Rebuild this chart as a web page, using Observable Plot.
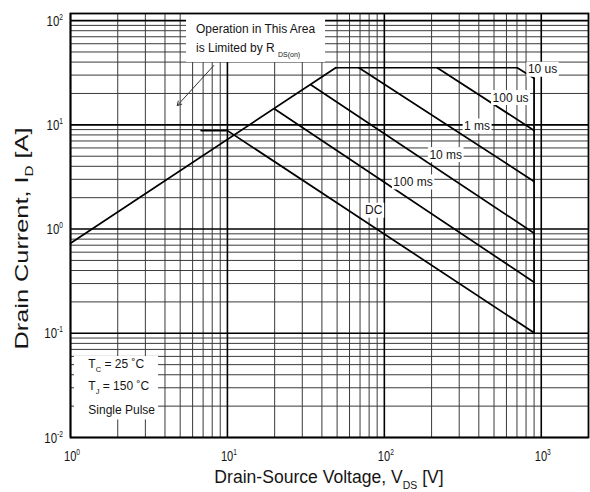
<!DOCTYPE html>
<html><head><meta charset="utf-8">
<script src="https://cdn.jsdelivr.net/npm/d3@7"></script>
<script src="https://cdn.jsdelivr.net/npm/@observablehq/plot@0.6"></script>
<style>
html,body{margin:0;padding:0;background:#fff;}
svg{display:block;}
</style>
</head><body><div id="chart"></div>
<script>
// ---- data (V in volts, I in amperes) ----
const rdsV = [1, 49],        rdsI = [0.73, 35.3];
const us10V = [49, 703, 900], us10I = [35.3, 35.3, 28];
const us100V = [217, 900],   us100I = [35.3, 8.83];
const ms1V = [68.8, 900],    ms1I = [35.3, 2.86];
const ms10V = [34, 900],     ms10I = [24.2, 0.913];
const ms100V = [20, 900],    ms100I = [14.2, 0.309];
const dcV = [6.8, 10, 900],  dcI = [8.8, 8.8, 0.101];
const edgeV = [900, 900],    edgeI = [28, 0.101];

const labelNames = ["10 us", "100 us", "1 ms", "10 ms", "100 ms", "DC"];
const labelV = [1027, 642, 393, 248, 153.5, 86.2];
const labelI = [34.0, 18.2, 9.7, 5.16, 2.82, 1.51];

const xMajor = [1, 10, 100, 1000];
const xMinor = [2,3,4,5,6,7,8,9,20,30,40,50,60,70,80,90,200,300,400,500,600,700,800,2000];
const yMajor = [0.01, 0.1, 1, 10, 100];
const yMinor = [0.02,0.03,0.04,0.05,0.06,0.07,0.08,0.09,0.2,0.3,0.4,0.5,0.6,0.7,0.8,0.9,2,3,4,5,6,7,8,9,20,30,40,50,60,70,80,90];
const xTickValues = [1, 10, 100, 1000], xTickExp = ["0", "1", "2", "3"];
const yTickValues = [0.01, 0.1, 1, 10, 100], yTickExp = ["-2", "-1", "0", "1", "2"];

const pts = (V, I) => V.map((v, k) => ({v, i: I[k]}));
const curveStyle = {x: "v", y: "i", stroke: "#000", strokeWidth: 1.7};
const FONT = "'Liberation Sans', Arial, sans-serif";

const plot = Plot.plot({
  width: 590, height: 492,
  marginLeft: 70, marginRight: 2, marginTop: 13, marginBottom: 55,
  x: {type: "log", domain: [1, 2000], axis: null},
  y: {type: "log", domain: [0.01, 117], axis: null},
  style: {fontFamily: FONT, background: "#fff"},
  marks: [
    Plot.ruleX(xMinor, {stroke: "#3a3a3a", strokeWidth: 1}),
    Plot.ruleX([900], {y1: 0.01, y2: 28, stroke: "#3a3a3a", strokeWidth: 1}),
    Plot.ruleY(yMinor, {stroke: "#3a3a3a", strokeWidth: 1}),
    Plot.ruleX(xMajor, {stroke: "#000", strokeWidth: 1.6}),
    Plot.ruleY(yMajor, {stroke: "#000", strokeWidth: 1.6}),
    Plot.rect([0], {x1: 5.49, x2: 42.2, y1: 39.6, y2: 117, fill: "#fff"}),
    Plot.rect([0], {x1: 1.06, x2: 3.64, y1: 0.01473, y2: 0.0599, fill: "#fff"}),
    Plot.arrow([0], {x1: 8.19, y1: 37.1, x2: 4.79, y2: 15.3, stroke: "#333", strokeWidth: 1, headLength: 7}),
    Plot.line(pts(rdsV, rdsI), curveStyle),
    Plot.line(pts(us10V, us10I), curveStyle),
    Plot.line(pts(us100V, us100I), curveStyle),
    Plot.line(pts(ms1V, ms1I), curveStyle),
    Plot.line(pts(ms10V, ms10I), curveStyle),
    Plot.line(pts(ms100V, ms100I), curveStyle),
    Plot.line(pts(dcV, dcI), curveStyle),
    Plot.line(pts(edgeV, edgeI), curveStyle),
    Plot.frame({stroke: "#000", strokeWidth: 1.8})
  ]
});
document.getElementById("chart").append(plot);

const sx = plot.scale("x"), sy = plot.scale("y");
const svg = d3.select(plot);
const g = svg.append("g").attr("font-family", FONT).attr("fill", "#151515").attr("text-anchor", "start");

// tick labels
xTickValues.forEach((v, k) => {
  const t = g.append("text")
    .attr("transform", `translate(${sx.apply(v) + 2},460.5) scale(0.74,1)`)
    .attr("text-anchor", "middle").attr("font-size", 15);
  t.append("tspan").text("10");
  t.append("tspan").attr("dy", -6).attr("font-size", 9).text(xTickExp[k]);
});
yTickValues.forEach((v, k) => {
  const t = g.append("text")
    .attr("transform", `translate(63,${sy.apply(v) + 5.5}) scale(0.74,1)`)
    .attr("text-anchor", "end").attr("font-size", 15.5);
  t.append("tspan").text("10");
  t.append("tspan").attr("dy", -6).attr("font-size", 9).text(yTickExp[k]);
});

// axis titles
const xt = g.append("text")
  .attr("transform", `translate(${(sx.range[0] + sx.range[1]) / 2},483) scale(0.95,1)`)
  .attr("text-anchor", "middle").attr("font-size", 18.5);
xt.append("tspan").text("Drain-Source Voltage, V");
xt.append("tspan").attr("font-size", 11).attr("dy", 6).text("DS");
xt.append("tspan").attr("dy", -6).text(" [V]");

const yt = g.append("text")
  .attr("transform", `translate(28.3,238.5) rotate(-90) scale(1.37,1)`)
  .attr("text-anchor", "middle").attr("font-size", 18.5);
yt.append("tspan").text("Drain Current, I");
yt.append("tspan").attr("font-size", 11).attr("dy", 5).text("D");
yt.append("tspan").attr("dy", -5).text(" [A]");

// curve labels with white backgrounds
labelNames.forEach((name, k) => {
  const lg = g.append("g");
  const t = lg.append("text")
    .attr("x", sx.apply(labelV[k])).attr("y", sy.apply(labelI[k]))
    .attr("dy", "0.36em").attr("text-anchor", "middle").attr("font-size", 12)
    .text(name);
  const b = t.node().getBBox();
  lg.insert("rect", "text").attr("x", b.x - 1.5).attr("y", b.y - 0.5)
    .attr("width", b.width + 3).attr("height", b.height + 1).attr("fill", "#fff");
});

// annotation: RDS(on)
const ax = sx.apply(6.35);
g.append("text").attr("x", ax).attr("y", sy.apply(74.4)).attr("font-size", 12)
  .attr("text-anchor", "start").text("Operation in This Area");
const a2 = g.append("text").attr("x", ax).attr("y", sy.apply(49.4)).attr("font-size", 12)
  .attr("text-anchor", "start");
a2.append("tspan").text("is Limited by R ");
a2.append("tspan").attr("font-size", 7).attr("dy", 4.5).text("DS(on)");

// annotation: conditions
const cx = sx.apply(1.308);
const c1 = g.append("text").attr("x", cx).attr("y", sy.apply(0.04546)).attr("font-size", 12)
  .attr("text-anchor", "start");
c1.append("tspan").text("T");
c1.append("tspan").attr("font-size", 7.5).attr("dy", 4).text("C");
c1.append("tspan").attr("dy", -4).text(" = 25 \u02DAC");
const c2 = g.append("text").attr("x", cx).attr("y", sy.apply(0.02827)).attr("font-size", 12)
  .attr("text-anchor", "start");
c2.append("tspan").text("T");
c2.append("tspan").attr("font-size", 7.5).attr("dy", 4).text("J");
c2.append("tspan").attr("dy", -4).text(" = 150 \u02DAC");
g.append("text").attr("x", cx).attr("y", sy.apply(0.01652)).attr("font-size", 12)
  .attr("text-anchor", "start").text("Single Pulse");
</script>
</body></html>
